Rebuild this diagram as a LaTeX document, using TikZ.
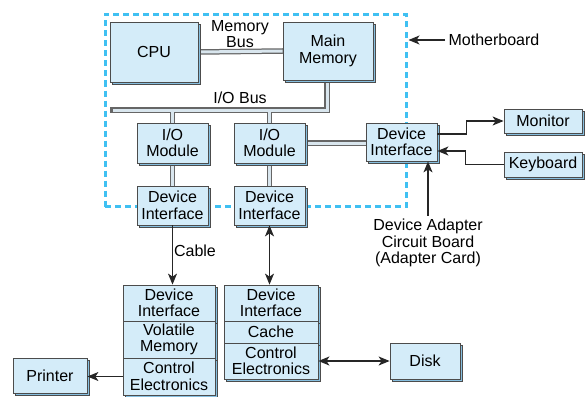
\documentclass[tikz,border=0pt]{standalone}
\usepackage{fontspec}
\setmainfont{Liberation Sans}
\usepackage{xcolor}
\usepackage{tikz}
\usetikzlibrary{arrows.meta, shadows, backgrounds, calc}
\definecolor{boxfill}{HTML}{D4ECF9}
\definecolor{boxside}{HTML}{86BFE0}
\definecolor{boardline}{HTML}{3FC0F2}
\definecolor{busfill}{HTML}{D9E6EE}

\begin{document}
\begin{tikzpicture}[
x=1pt,y=-1pt,
font=\fontsize{16}{16.5}\selectfont,
elem/.style={
    rectangle,inner sep=0pt,align=center,draw=black!70,line width=0.8pt,fill=boxfill,
    general shadow={fill=boxside,draw=black!70,line width=0.8pt,shadow xshift=2.5pt,shadow yshift=-2.5pt}
},
board/.style={
    rectangle,draw=boardline,line width=3pt,dash pattern=on 6pt off 4pt
},
busout/.style={line width=5.5pt,draw=black!60,line cap=rect},
busin/.style={line width=3pt,draw=busfill},
tip/.style={arrows={-Stealth[length=11pt,width=9pt,inset=3pt]}},
arr/.style={tip,line width=1.2pt,draw=black!85},
darr/.style={arr,arrows={Stealth[length=11pt,width=9pt,inset=3pt]-Stealth[length=11pt,width=9pt,inset=3pt]}}
]
    \useasboundingbox (0,0) rectangle (585,396);

    \node(CPU)[elem,minimum width=88pt,minimum height=60pt] at (154,52){CPU};
    \node(MEM)[elem,minimum width=90pt,minimum height=58pt] at (328,51){Main\\Memory};
    \node(IO1)[elem,minimum width=71pt,minimum height=40pt] at (172.5,143){I/O\\Module};
    \node(IO2)[elem,minimum width=71pt,minimum height=40pt] at (269.5,143){I/O\\Module};
    \node(DI1)[elem,minimum width=71pt,minimum height=39pt] at (172.5,205.5){Device\\Interface};
    \node(DI2)[elem,minimum width=71pt,minimum height=39pt] at (269.5,205.5){Device\\Interface};
    \node(DI3)[elem,minimum width=71pt,minimum height=38pt] at (401.5,142){Device\\Interface};
    \node(MON)[elem,minimum width=78pt,minimum height=24pt] at (543,121){Monitor};
    \node(KEY)[elem,minimum width=78pt,minimum height=25pt] at (543,164.5){Keyboard};

    \node(LS1)[elem,minimum width=92pt,minimum height=36pt] at (169,303){Device\\Interface};
    \node(LS2)[elem,minimum width=92pt,minimum height=37pt] at (169,339.5){Volatile\\Memory};
    \node(LS3)[elem,minimum width=92pt,minimum height=37pt] at (169,376.5){Control\\Electronics};
    \node(RS1)[elem,minimum width=94pt,minimum height=36pt] at (271,303){Device\\Interface};
    \node(RS2)[elem,minimum width=94pt,minimum height=22pt] at (271,332){Cache};
    \node(RS3)[elem,minimum width=94pt,minimum height=36pt] at (271,361){Control\\Electronics};
    \node(PRN)[elem,minimum width=74pt,minimum height=35pt] at (50,375.5){Printer};
    \node(DSK)[elem,minimum width=70pt,minimum height=36pt] at (425,361){Disk};

    \node(MBL)[align=center] at (240,34){Memory\\Bus};
    \node(IOL) at (240,98){I/O Bus};
    \node(CBL) at (195,251){Cable};
    \node(LB) at (494,40){Motherboard};
    \node(AD)[align=center] at (428,243){Device Adapter\\Circuit Board\\(Adapter Card)};

    \coordinate(BL) at (113,110);
    \coordinate(BR) at (327,110);

    \begin{pgfonlayer}{background}
    \node(MB)[board,minimum width=301pt,minimum height=192pt] at (255.5,110.5){};
    \foreach \s in {busout,busin}{
        \draw[\s] (CPU.east) to (MEM.west);
        \draw[\s] (MEM.south -| BR) -- (BR) -- (BL);
        \draw[\s] (IO1.north) to (IO1.north |- BL);
        \draw[\s] (IO2.north) to (IO2.north |- BL);
        \draw[\s] (IO1.south) to (DI1.north);
        \draw[\s] (IO2.south) to (DI2.north);
        \draw[\s] (IO2.east) to (IO2.east -| DI3.west);
    }
    \end{pgfonlayer}

    \draw[arr,shorten >=1pt] (LB.west) to (LB.west -| MB.east);
    \draw[arr] (DI1.south) to (DI1.south |- LS1.north);
    \draw[darr] (DI2.south) to (DI2.south |- RS1.north);
    \draw[arr] (AD.north) to (AD.north |- DI3.south);
    \draw[arr] ([yshift=8pt]DI3.east) -- ++(29,0) |- (MON.west);
    \draw[arr] (KEY.west) -- ++(-38,0) |- ([yshift=-9pt]DI3.east);
    \draw[arr] (LS3.west) to (LS3.west -| PRN.east);
    \draw[darr] (RS3.east) to (DSK.west);
\end{tikzpicture}
\end{document}
